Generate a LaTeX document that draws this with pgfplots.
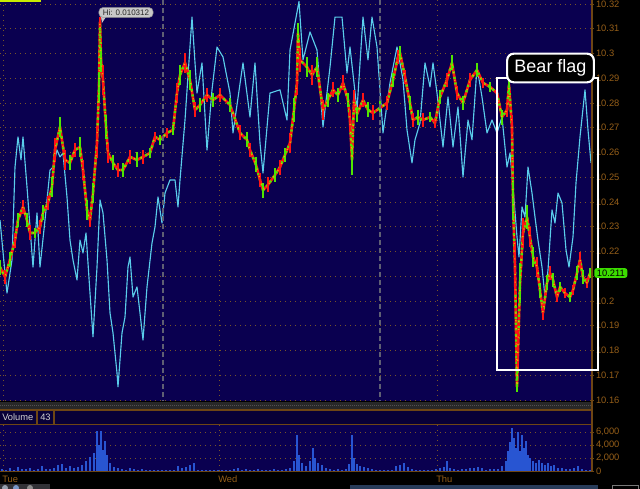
\documentclass[border=0pt]{standalone}
\usepackage{pgfplots}
\pgfplotsset{compat=1.18}
\usepackage{pgfplotstable}
\usepackage{fontspec}
\setmainfont{Liberation Sans}
\definecolor{navy}{RGB}{10,0,80}
\definecolor{hdr}{RGB}{8,0,55}
\definecolor{brn}{RGB}{150,95,25}
\definecolor{brnline}{RGB}{110,70,20}
\definecolor{gridc}{RGB}{120,85,40}
\definecolor{cyanl}{RGB}{90,205,235}
\definecolor{pred}{RGB}{255,20,20}
\definecolor{pgreen}{RGB}{80,230,0}
\definecolor{porange}{RGB}{240,170,0}
\definecolor{volb}{RGB}{40,85,210}
\definecolor{tipgrey}{RGB}{200,200,200}
\definecolor{tipedge}{RGB}{150,150,150}
\definecolor{tiptext}{RGB}{40,40,40}
\definecolor{lbl}{RGB}{60,220,0}
\definecolor{ylw}{RGB}{200,235,0}
\definecolor{sep}{RGB}{95,95,115}
\definecolor{strip}{RGB}{40,40,40}
\definecolor{stripdot}{RGB}{80,80,80}
\definecolor{hdrtext}{RGB}{210,210,210}
\definecolor{tb}{RGB}{50,50,55}
\definecolor{ic1}{RGB}{150,160,175}
\definecolor{ic2}{RGB}{120,150,200}
\definecolor{ic3}{RGB}{140,140,140}
\definecolor{scr}{RGB}{40,60,90}
\definecolor{scredge}{RGB}{120,120,120}

\pgfplotstableread{
x y e
0 10.2137 .003
5 10.2097 .003
10 10.2166 .003
15 10.2246 .003
18 10.2327 .003
23 10.2380 .003
27 10.2327 .003
30 10.2275 .003
35 10.2275 .002
40 10.2299 .003
43 10.2356 .003
48 10.2396 .003
52 10.2461 .004
55 10.2610 .005
60 10.2703 .004
65 10.2570 .004
70 10.2558 .003
75 10.2610 .003
80 10.2622 .004
83 10.2529 .004
87 10.2368 .004
90 10.2327 .003
93 10.2436 .004
97 10.2638 .006
99 10.2865 .006
100 10.3127 .002
101 10.2974 .005
103 10.2893 .006
106 10.2703 .005
108 10.2598 .004
113 10.2558 .003
118 10.2529 .003
123 10.2529 .003
130 10.2582 .003
137 10.2570 .003
143 10.2582 .003
150 10.2598 .002
155 10.2663 .002
160 10.2651 .002
167 10.2679 .002
173 10.2691 .002
177 10.2840 .004
180 10.2913 .004
185 10.2962 .004
190 10.2893 .004
195 10.2772 .003
200 10.2792 .003
207 10.2832 .003
213 10.2812 .003
220 10.2832 .003
230 10.2792 .003
240 10.2679 .003
247 10.2651 .003
250 10.2610 .003
256 10.2550 .003
260 10.2489 .003
263 10.2448 .003
268 10.2469 .003
275 10.2509 .003
280 10.2541 .003
285 10.2590 .003
290 10.2638 .004
294 10.2772 .005
297 10.2881 .005
298 10.3083 .004
300 10.2974 .005
307 10.2945 .004
312 10.2913 .004
317 10.2945 .004
323 10.2772 .004
328 10.2812 .003
333 10.2853 .003
338 10.2832 .003
343 10.2881 .003
348 10.2812 .003
350 10.2731 .004
352 10.2570 .006
354 10.2812 .004
357 10.2755 .003
363 10.2812 .003
368 10.2772 .003
373 10.2760 .003
380 10.2780 .003
387 10.2800 .003
393 10.2893 .003
398 10.2986 .003
400 10.3002 .003
405 10.2905 .003
410 10.2800 .003
413 10.2731 .003
418 10.2743 .003
423 10.2731 .003
430 10.2743 .002
435 10.2719 .002
440 10.2824 .003
447 10.2893 .003
452 10.2962 .003
457 10.2840 .003
463 10.2800 .003
470 10.2893 .003
477 10.2933 .003
483 10.2881 .002
490 10.2865 .002
497 10.2840 .002
502 10.2743 .003
507 10.2772 .003
509 10.2873 .003
512 10.2703 .005
513 10.2408 .008
515 10.2137 .010
517 10.1653 .002
518 10.1802 .008
520 10.2073 .008
523 10.2275 .006
527 10.2339 .005
530 10.2259 .004
533 10.2178 .004
537 10.2137 .004
540 10.2044 .003
543 10.1952 .003
547 10.2073 .003
550 10.2113 .003
553 10.2085 .003
557 10.2016 .002
560 10.2057 .002
565 10.2032 .002
570 10.2016 .002
573 10.2044 .002
577 10.2113 .003
580 10.2166 .003
583 10.2097 .003
587 10.2073 .002
590 10.2113 .002
}\price

\pgfplotstableread{
x y
0 10.2327
5 10.2113
7 10.2032
12 10.2166
15 10.2541
18 10.2663
21 10.2570
23 10.2663
27 10.2461
30 10.2299
33 10.2137
37 10.2356
40 10.2137
45 10.2327
50 10.2529
53 10.2541
57 10.2610
60 10.2582
63 10.2598
67 10.2420
70 10.2246
73 10.2166
77 10.2085
80 10.2246
83 10.2194
86 10.2275
90 10.2032
93 10.1855
97 10.2137
100 10.2408
103 10.2356
107 10.2166
110 10.1952
113 10.1871
117 10.1709
118 10.1653
122 10.1871
125 10.1935
128 10.2137
130 10.2178
133 10.2016
137 10.2057
140 10.1952
143 10.1842
147 10.2057
152 10.2234
155 10.2299
158 10.2420
162 10.2315
165 10.2436
170 10.2489
175 10.2489
178 10.2380
180 10.2489
185 10.2731
192 10.3147
197 10.2840
202 10.2962
207 10.2610
212 10.2853
217 10.3026
223 10.2986
230 10.2840
233 10.2679
243 10.2962
250 10.2743
255 10.2962
260 10.2638
263 10.2517
270 10.2840
280 10.2853
287 10.2731
290 10.3014
299 10.3210
303 10.2974
310 10.3087
317 10.3014
323 10.2703
330 10.2945
335 10.3147
342 10.3147
347 10.2921
350 10.3026
357 10.2772
363 10.3147
368 10.2974
372 10.3147
377 10.3026
383 10.2679
390 10.2881
397 10.3026
400 10.2962
403 10.2893
407 10.2691
412 10.2558
415 10.2651
420 10.2719
425 10.2962
430 10.2865
433 10.2962
437 10.2840
443 10.2622
448 10.2824
453 10.2622
458 10.2784
463 10.2501
468 10.2731
472 10.2651
477 10.2945
482 10.2824
487 10.2679
492 10.2731
497 10.2679
502 10.2743
507 10.2541
510 10.2598
513 10.2461
517 10.2259
519 10.2178
522 10.2380
525 10.2339
528 10.2541
532 10.2436
535 10.2339
538 10.2246
542 10.2137
545 10.2016
548 10.2125
552 10.2368
555 10.2315
558 10.2436
562 10.2396
566 10.2206
569 10.2137
573 10.2259
576 10.2477
580 10.2663
585 10.2853
588 10.2691
591 10.2558
}\cyanline

\pgfplotstableread{
x v
2 300
6 150
10 400
14 200
18 600
22 300
26 250
30 500
34 200
38 350
42 700
46 300
50 250
54 400
58 900
62 1100
66 500
70 800
74 400
78 600
82 900
86 1500
90 2200
94 2800
97 6100
99 4000
101 6100
103 3200
105 4600
107 2500
110 1200
114 600
118 400
122 300
126 200
130 400
134 250
138 200
142 300
146 150
150 200
154 100
158 150
162 100
166 100
170 150
174 200
178 700
182 400
186 600
190 900
194 1200
198 200
202 100
206 150
210 200
214 100
218 150
222 100
226 200
230 150
234 250
238 400
242 200
246 300
250 150
254 200
258 350
262 200
266 150
270 200
274 300
278 150
282 200
286 300
290 500
294 1500
297 5500
299 2500
302 1200
306 800
310 1500
313 3500
315 2000
318 1200
322 900
326 500
330 300
334 200
338 300
342 150
346 300
349 1000
352 5500
354 2000
357 1000
360 800
364 600
368 400
372 300
376 200
380 150
384 200
388 150
392 200
396 800
400 900
404 1200
408 600
412 300
416 200
420 150
424 200
428 100
432 150
436 300
440 400
444 600
447 1600
450 500
454 300
458 200
462 250
466 300
470 400
474 500
478 600
482 400
486 200
490 300
494 250
498 300
502 700
506 1500
508 3000
510 4500
512 6600
514 5000
516 3500
518 6000
520 3000
522 5500
524 3500
526 4600
528 2500
530 2000
533 1600
536 1300
539 1700
542 1200
545 900
548 1300
551 700
554 900
558 500
562 400
566 300
570 350
574 500
578 800
582 300
586 200
590 150
}\vol

\begin{document}
\begin{tikzpicture}
\fill[black] (0,0) rectangle (480pt,366.75pt);

% main price panel
\begin{axis}[
  at={(0pt,66pt)}, anchor=south west,
  width=444pt, height=300.75pt, scale only axis,
  xmin=0, xmax=592, ymin=10.1596, ymax=10.3216,
  axis background/.style={fill=navy},
  axis line style={draw=none},
  xtick={3,219,437}, xticklabels={}, xtick style={draw=none},
  xmajorgrids, ymajorgrids,
  grid style={gridc, line width=0.6pt, dash pattern=on 0.75pt off 3pt},
  ytick={10.16,10.17,10.18,10.19,10.2,10.21,10.22,10.23,10.24,10.25,10.26,10.27,10.28,10.29,10.3,10.31,10.32},
  yticklabels={10.16,10.17,10.18,10.19,10.2,{},10.22,10.23,10.24,10.25,10.26,10.27,10.28,10.29,10.3,10.31,10.32},
  yticklabel pos=right, ytick pos=right,
  tick align=center, major tick length=3pt,
  ytick style={brnline, line width=0.6pt},
  yticklabel style={font=\fontsize{7}{8}\selectfont, text=brn, anchor=west, xshift=-2pt},
  line join=round,
]
\addplot[cyanl, line width=0.85pt, no markers] table[x=x,y=y] {\cyanline};
\addplot[pred, line width=2pt, no markers] table[x=x,y=y] {\price};
\addplot[pgreen, line width=1.8pt, no markers, dash pattern=on 1.6pt off 2.6pt] table[x=x,y=y] {\price};
\addplot[draw=none, no markers,
  error bars/.cd, y dir=both, y explicit, error mark=none,
  error bar style={line width=1.5pt, pred, solid}] table[x=x,y=y,y error=e] {\price};
\addplot[draw=none, no markers, each nth point=2, filter discard warning=false,
  error bars/.cd, y dir=both, y explicit, error mark=none,
  error bar style={line width=1.5pt, pgreen, solid}] table[x=x,y=y,y error=e] {\price};
\addplot[porange, line width=1.1pt, no markers, dash pattern=on 0.8pt off 5pt, dash phase=2pt] table[x=x,y=y] {\price};
\end{axis}

% volume panel
\begin{axis}[
  at={(0pt,13.5pt)}, anchor=south west,
  width=444pt, height=34.5pt, scale only axis,
  xmin=0, xmax=592, ymin=0, ymax=7077,
  axis background/.style={fill=navy},
  axis line style={draw=none},
  xtick={3,219,437}, xticklabels={}, xtick style={draw=none},
  xmajorgrids, ymajorgrids,
  grid style={gridc, line width=0.6pt, dash pattern=on 0.75pt off 3pt},
  ytick={0,2000,4000,6000}, scaled y ticks=false,
  yticklabel pos=right, ytick pos=right,
  tick align=center, major tick length=3pt,
  ytick style={brnline, line width=0.6pt},
  yticklabel style={font=\fontsize{7}{8}\selectfont, text=brn, anchor=west, xshift=-2pt},
  /pgf/number format/assume math mode=true,
]
\addplot[ycomb, volb, line width=2.2pt, no markers] table[x=x,y=v] {\vol};
\end{axis}

% decorations in pixel coordinates
\begin{scope}[x=0.75pt, y=-0.75pt, yshift=366.75pt]
  \fill[ylw] (0,0) rectangle (41,2.5);
  \draw[sep, line width=1.3pt, dash pattern=on 4pt off 2pt] (163,0) -- (163,401);
  \draw[sep, line width=1.3pt, dash pattern=on 4pt off 2pt] (380,0) -- (380,401);
  \fill[strip] (0,402) rectangle (592,409);
  \draw[stripdot, line width=0.75pt, dash pattern=on 0.75pt off 0.75pt] (0,405.5) -- (592,405.5);
  \fill[hdr] (0,410) rectangle (592,424);
  \draw[brnline, line width=0.9pt] (0,410) -- (592,410);
  \draw[brnline, line width=0.9pt] (0,424.5) -- (592,424.5);
  \draw[brnline, line width=0.9pt] (37,410) -- (37,424.5);
  \draw[brnline, line width=0.9pt] (54,410) -- (54,424.5);
  \node[anchor=west, inner sep=0pt, text=hdrtext, font=\fontsize{7}{8}\selectfont] at (2,417) {Volume};
  \node[anchor=west, inner sep=0pt, text=hdrtext, font=\fontsize{7}{8}\selectfont] at (40,417) {43};
  \draw[brnline, line width=0.9pt] (0,471.5) -- (592,471.5);
  \draw[brnline, line width=0.9pt] (592,0) -- (592,472);
  \node[anchor=west, inner sep=0pt, text=brn, font=\fontsize{7}{8}\selectfont] at (2,479) {Tue};
  \node[anchor=west, inner sep=0pt, text=brn, font=\fontsize{7}{8}\selectfont] at (218,479) {Wed};
  \node[anchor=west, inner sep=0pt, text=brn, font=\fontsize{7}{8}\selectfont] at (436,479) {Thu};
  \fill[tb] (0,484) rectangle (50,489);
  \fill[ic1] (5,488) circle (3);
  \fill[ic2] (16,488) circle (3);
  \fill[ic3] (30,488) circle (3);
  \fill[scr] (350,485) rectangle (598,489);
  \draw[scredge, line width=0.6pt] (612,485) rectangle (638,489);
  \fill[tipgrey] (101,17) -- (106,17) -- (102,23) -- cycle;
  \node[fill=tipgrey, draw=tipedge, line width=0.4pt, rounded corners=3pt, text=tiptext, font=\fontsize{6}{7}\selectfont, inner xsep=3pt, inner ysep=1.5pt] at (126,12.5) {Hi: 0.010312};
  \draw[white, line width=1.5pt] (497,78) rectangle (598,370);
  \node[fill=black, draw=white, line width=1.6pt, rounded corners=5pt, text=white, font=\fontsize{13.5}{15}\selectfont, inner sep=0pt, minimum width=65pt, minimum height=21.5pt] at (550.5,68) {Bear flag};
  \node[fill=lbl, rounded corners=2pt, text=black, font=\fontsize{7}{8}\selectfont, inner xsep=2pt, inner ysep=1.2pt, anchor=west] at (594,273) {10.211};
\end{scope}
\pgfresetboundingbox
\useasboundingbox (0,0) rectangle (480pt,366.75pt);
\end{tikzpicture}
\end{document}
